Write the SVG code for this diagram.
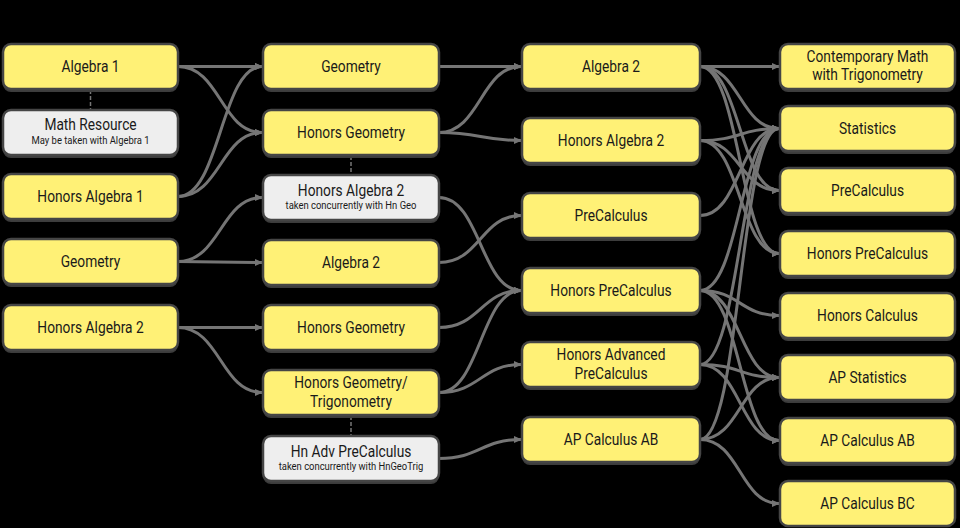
<svg xmlns="http://www.w3.org/2000/svg" width="960" height="528" viewBox="0 0 960 528">
<defs>
<marker id="ah" markerUnits="userSpaceOnUse" markerWidth="8" markerHeight="8" refX="7" refY="4" orient="auto"><path d="M0,0.5 L8,4 L0,7.5 z" fill="#757575"/></marker>
<style>
.n{fill:#FFF176;stroke:#454545;stroke-width:2.5}
.g{fill:#EEEEEE;stroke:#454545;stroke-width:2.5}
.sh{fill:#3c3c3c}
.t{font-family:Roboto,"Liberation Sans",sans-serif;font-size:16px;fill:#1a1a1a;text-anchor:middle}
.s{font-family:Roboto,"Liberation Sans",sans-serif;font-size:10.5px;fill:#1a1a1a;text-anchor:middle}
.e{fill:none;stroke:#757575;stroke-width:3;marker-end:url(#ah)}
.d{fill:none;stroke:#757575;stroke-width:1.5;stroke-dasharray:4 2}
</style>
</defs>
<rect width="960" height="528" fill="#000"/>
<g id="connectors">
<path class="e" d="M178,66.5 L262,66.5"/>
<path class="e" d="M178,66.5 C220,66.5 221,132.5 262,132.5"/>
<path class="e" d="M178,196.5 C220,196.5 221,66.5 262,66.5"/>
<path class="e" d="M178,196.5 C220,196.5 221,132.5 262,132.5"/>
<path class="e" d="M178,261.5 C220,261.5 221,197.5 262,197.5"/>
<path class="e" d="M178,261.5 L262,262.5"/>
<path class="e" d="M178,327.5 L262,327.5"/>
<path class="e" d="M178,327.5 C220,327.5 221,392.5 262,392.5"/>
<path class="e" d="M439,66.5 L521,66.5"/>
<path class="e" d="M439,132.5 C480,132.5 481,66.5 521,66.5"/>
<path class="e" d="M439,132.5 C480,132.5 481,140.5 521,140.5"/>
<path class="e" d="M439,197.5 C480,197.5 481,290.5 521,290.5"/>
<path class="e" d="M439,262.5 C480,262.5 481,215.5 521,215.5"/>
<path class="e" d="M439,327.5 C480,327.5 481,290.5 521,290.5"/>
<path class="e" d="M439,392.5 C480,392.5 481,290.5 521,290.5"/>
<path class="e" d="M439,392.5 C480,392.5 481,364.5 521,364.5"/>
<path class="e" d="M439,458.5 C480,458.5 481,439.5 521,439.5"/>
<path class="e" d="M700,66.5 L779,66.5"/>
<path class="e" d="M700,66.5 C740,66.5 740,128.5 779,128.5"/>
<path class="e" d="M700,66.5 C740,66.5 740,190.5 779,190.5"/>
<path class="e" d="M700,66.5 C740,66.5 740,253.5 779,253.5"/>
<path class="e" d="M700,140.5 C740,140.5 740,128.5 779,128.5"/>
<path class="e" d="M700,140.5 C740,140.5 740,190.5 779,190.5"/>
<path class="e" d="M700,140.5 C740,140.5 740,253.5 779,253.5"/>
<path class="e" d="M700,215.5 C740,215.5 740,128.5 779,128.5"/>
<path class="e" d="M700,290.5 C740,290.5 740,128.5 779,128.5"/>
<path class="e" d="M700,290.5 C740,290.5 740,315.5 779,315.5"/>
<path class="e" d="M700,290.5 C740,290.5 740,377.5 779,377.5"/>
<path class="e" d="M700,290.5 C740,290.5 740,440.5 779,440.5"/>
<path class="e" d="M700,364.5 C740,364.5 740,128.5 779,128.5"/>
<path class="e" d="M700,364.5 C740,364.5 740,377.5 779,377.5"/>
<path class="e" d="M700,364.5 C740,364.5 740,440.5 779,440.5"/>
<path class="e" d="M700,439.5 C740,439.5 740,128.5 779,128.5"/>
<path class="e" d="M700,439.5 C740,439.5 740,377.5 779,377.5"/>
<path class="e" d="M700,439.5 C740,439.5 740,503.5 779,503.5"/>
<path class="d" d="M90.5,90 L90.5,110"/>
<path class="d" d="M351,156 L351,175"/>
<path class="d" d="M351,416 L351,436"/>
</g>
<g id="c1-algebra1"><rect class="sh" x="3" y="47" width="175" height="45" rx="8"/><rect class="n" x="3" y="44" width="175" height="45" rx="8"/><text class="t" transform="translate(90.5 72) scale(0.86 1)">Algebra 1</text></g>
<g id="c1-mathresource"><rect class="sh" x="3" y="113" width="175" height="45" rx="8"/><rect class="g" x="3" y="110" width="175" height="45" rx="8"/><text class="t" transform="translate(90.5 130) scale(0.86 1)">Math Resource</text><text class="s" transform="translate(90.5 144) scale(0.9 1)">May be taken with Algebra 1</text></g>
<g id="c1-honalg1"><rect class="sh" x="3" y="177" width="175" height="45" rx="8"/><rect class="n" x="3" y="174" width="175" height="45" rx="8"/><text class="t" transform="translate(90.5 202) scale(0.86 1)">Honors Algebra 1</text></g>
<g id="c1-geometry"><rect class="sh" x="3" y="242" width="175" height="45" rx="8"/><rect class="n" x="3" y="239" width="175" height="45" rx="8"/><text class="t" transform="translate(90.5 267) scale(0.86 1)">Geometry</text></g>
<g id="c1-honalg2"><rect class="sh" x="3" y="308" width="175" height="45" rx="8"/><rect class="n" x="3" y="305" width="175" height="45" rx="8"/><text class="t" transform="translate(90.5 333) scale(0.86 1)">Honors Algebra 2</text></g>
<g id="c2-geometry"><rect class="sh" x="263" y="47" width="176" height="45" rx="8"/><rect class="n" x="263" y="44" width="176" height="45" rx="8"/><text class="t" transform="translate(351 72) scale(0.86 1)">Geometry</text></g>
<g id="c2-hongeo"><rect class="sh" x="263" y="113" width="176" height="45" rx="8"/><rect class="n" x="263" y="110" width="176" height="45" rx="8"/><text class="t" transform="translate(351 138) scale(0.86 1)">Honors Geometry</text></g>
<g id="c2-honalg2"><rect class="sh" x="263" y="178" width="176" height="45" rx="8"/><rect class="g" x="263" y="175" width="176" height="45" rx="8"/><text class="t" transform="translate(351 196) scale(0.86 1)">Honors Algebra 2</text><text class="s" transform="translate(351 209) scale(0.9 1)">taken concurrently with Hn Geo</text></g>
<g id="c2-algebra2"><rect class="sh" x="263" y="243" width="176" height="45" rx="8"/><rect class="n" x="263" y="240" width="176" height="45" rx="8"/><text class="t" transform="translate(351 268) scale(0.86 1)">Algebra 2</text></g>
<g id="c2-hongeo2"><rect class="sh" x="263" y="308" width="176" height="45" rx="8"/><rect class="n" x="263" y="305" width="176" height="45" rx="8"/><text class="t" transform="translate(351 333) scale(0.86 1)">Honors Geometry</text></g>
<g id="c2-hgt"><rect class="sh" x="263" y="373" width="176" height="45" rx="8"/><rect class="n" x="263" y="370" width="176" height="45" rx="8"/><text class="t" transform="translate(351 388) scale(0.86 1)">Honors Geometry/</text><text class="t" transform="translate(351 407) scale(0.86 1)">Trigonometry</text></g>
<g id="c2-hnadvpc"><rect class="sh" x="263" y="439" width="176" height="45" rx="8"/><rect class="g" x="263" y="436" width="176" height="45" rx="8"/><text class="t" transform="translate(351 457) scale(0.86 1)">Hn Adv PreCalculus</text><text class="s" transform="translate(351 470) scale(0.9 1)">taken concurrently with HnGeoTrig</text></g>
<g id="c3-algebra2"><rect class="sh" x="522" y="47" width="178" height="45" rx="8"/><rect class="n" x="522" y="44" width="178" height="45" rx="8"/><text class="t" transform="translate(611 72) scale(0.86 1)">Algebra 2</text></g>
<g id="c3-honalg2"><rect class="sh" x="522" y="121" width="178" height="45" rx="8"/><rect class="n" x="522" y="118" width="178" height="45" rx="8"/><text class="t" transform="translate(611 146) scale(0.86 1)">Honors Algebra 2</text></g>
<g id="c3-precalc"><rect class="sh" x="522" y="196" width="178" height="45" rx="8"/><rect class="n" x="522" y="193" width="178" height="45" rx="8"/><text class="t" transform="translate(611 221) scale(0.86 1)">PreCalculus</text></g>
<g id="c3-honprecalc"><rect class="sh" x="522" y="271" width="178" height="45" rx="8"/><rect class="n" x="522" y="268" width="178" height="45" rx="8"/><text class="t" transform="translate(611 296) scale(0.86 1)">Honors PreCalculus</text></g>
<g id="c3-hapc"><rect class="sh" x="522" y="345" width="178" height="45" rx="8"/><rect class="n" x="522" y="342" width="178" height="45" rx="8"/><text class="t" transform="translate(611 360) scale(0.86 1)">Honors Advanced</text><text class="t" transform="translate(611 379) scale(0.86 1)">PreCalculus</text></g>
<g id="c3-apcab"><rect class="sh" x="522" y="420" width="178" height="45" rx="8"/><rect class="n" x="522" y="417" width="178" height="45" rx="8"/><text class="t" transform="translate(611 445) scale(0.86 1)">AP Calculus AB</text></g>
<g id="c4-contemp"><rect class="sh" x="780" y="47" width="175" height="45" rx="8"/><rect class="n" x="780" y="44" width="175" height="45" rx="8"/><text class="t" transform="translate(867.5 62) scale(0.86 1)">Contemporary Math</text><text class="t" transform="translate(867.5 80) scale(0.86 1)">with Trigonometry</text></g>
<g id="c4-stats"><rect class="sh" x="780" y="109" width="175" height="45" rx="8"/><rect class="n" x="780" y="106" width="175" height="45" rx="8"/><text class="t" transform="translate(867.5 134) scale(0.86 1)">Statistics</text></g>
<g id="c4-precalc"><rect class="sh" x="780" y="171" width="175" height="45" rx="8"/><rect class="n" x="780" y="168" width="175" height="45" rx="8"/><text class="t" transform="translate(867.5 196) scale(0.86 1)">PreCalculus</text></g>
<g id="c4-honprecalc"><rect class="sh" x="780" y="234" width="175" height="45" rx="8"/><rect class="n" x="780" y="231" width="175" height="45" rx="8"/><text class="t" transform="translate(867.5 259) scale(0.86 1)">Honors PreCalculus</text></g>
<g id="c4-honcalc"><rect class="sh" x="780" y="296" width="175" height="45" rx="8"/><rect class="n" x="780" y="293" width="175" height="45" rx="8"/><text class="t" transform="translate(867.5 321) scale(0.86 1)">Honors Calculus</text></g>
<g id="c4-apstat"><rect class="sh" x="780" y="358" width="175" height="45" rx="8"/><rect class="n" x="780" y="355" width="175" height="45" rx="8"/><text class="t" transform="translate(867.5 383) scale(0.86 1)">AP Statistics</text></g>
<g id="c4-apcab"><rect class="sh" x="780" y="421" width="175" height="45" rx="8"/><rect class="n" x="780" y="418" width="175" height="45" rx="8"/><text class="t" transform="translate(867.5 446) scale(0.86 1)">AP Calculus AB</text></g>
<g id="c4-apcbc"><rect class="sh" x="780" y="483" width="175" height="43" rx="8"/><rect class="n" x="780" y="481" width="175" height="45" rx="8"/><text class="t" transform="translate(867.5 509) scale(0.86 1)">AP Calculus BC</text></g>
</svg>
